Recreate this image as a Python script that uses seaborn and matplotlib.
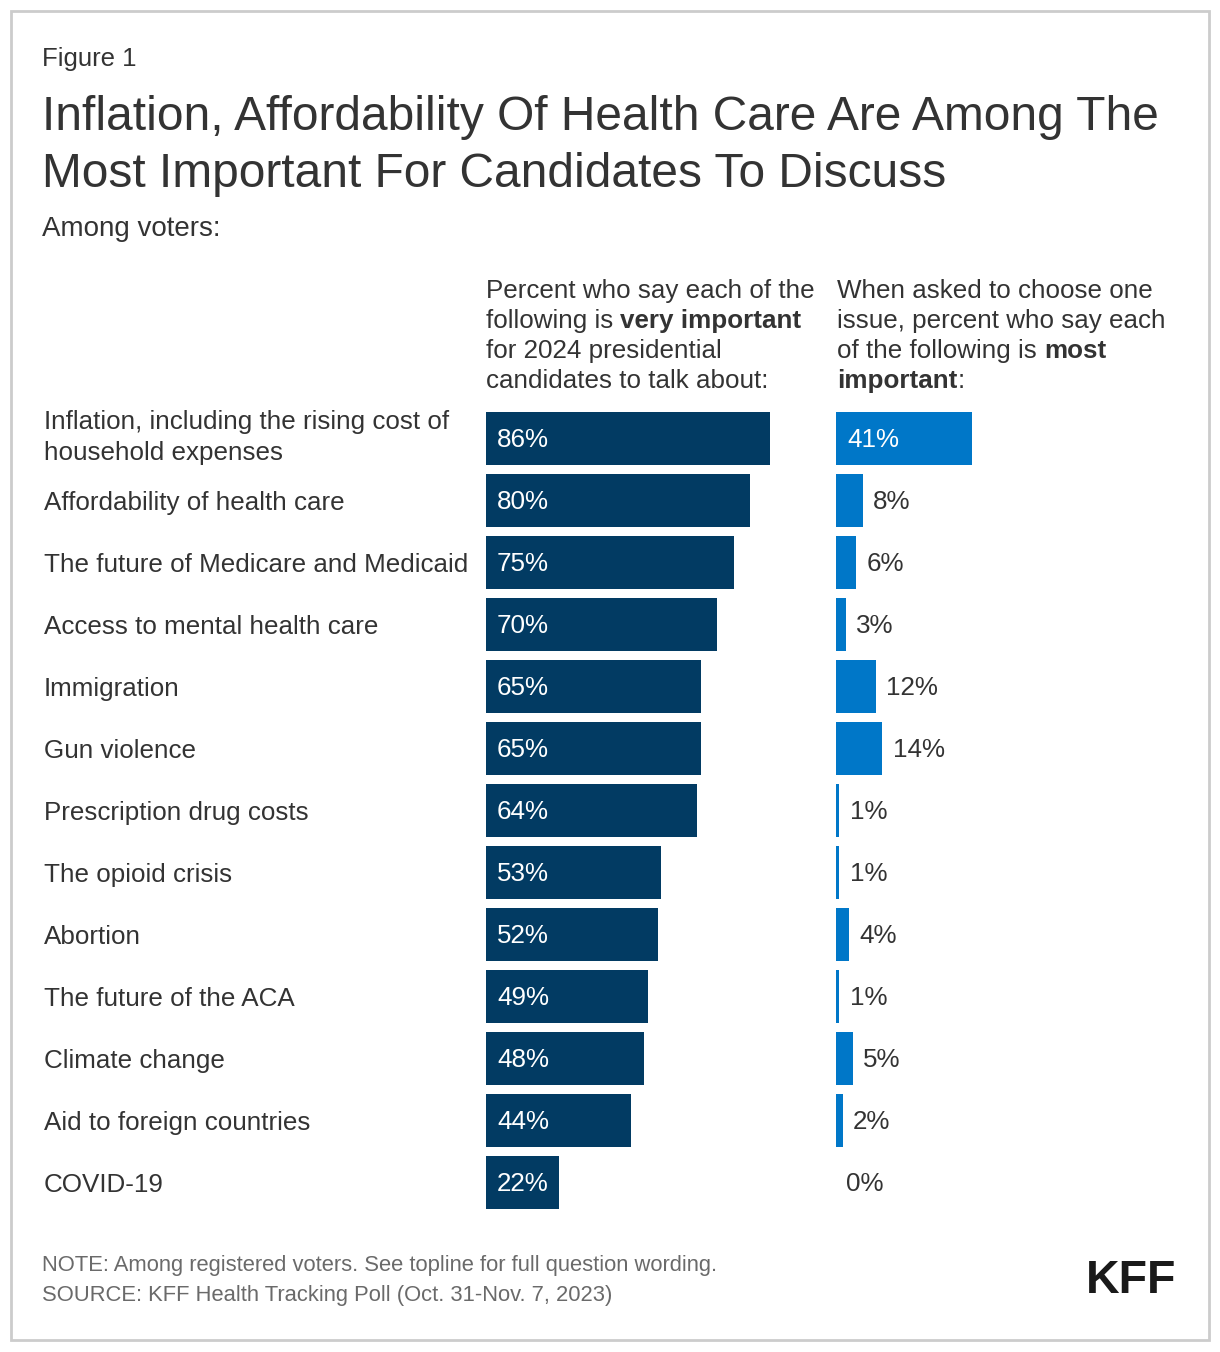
import numpy as np
import pandas as pd
import matplotlib
matplotlib.use("Agg")
import matplotlib.pyplot as plt
import matplotlib.transforms as mtransforms
import seaborn as sns
from matplotlib.patches import Rectangle

# ---------------- data ----------------
issues = [
    "Inflation, including the rising cost of\nhousehold expenses",
    "Affordability of health care",
    "The future of Medicare and Medicaid",
    "Access to mental health care",
    "Immigration",
    "Gun violence",
    "Prescription drug costs",
    "The opioid crisis",
    "Abortion",
    "The future of the ACA",
    "Climate change",
    "Aid to foreign countries",
    "COVID-19",
]
very_important = [86, 80, 75, 70, 65, 65, 64, 53, 52, 49, 48, 44, 22]
most_important = [41, 8, 6, 3, 12, 14, 1, 1, 4, 1, 5, 2, 0]

NAVY = "#023B63"
BLUE = "#0077C8"
TXT = "#333333"
GRAY = "#6A6A6A"

sns.set_theme(style="white")
plt.rcParams["font.family"] = ["Liberation Sans", "DejaVu Sans"]

W, H = 1220, 1352
fig = plt.figure(figsize=(W / 100, H / 100), dpi=100)
fig.patch.set_facecolor("white")


def fx(x):
    return x / W


def fy(y):
    return 1 - y / H


# border
fig.patches.append(Rectangle((fx(11), fy(1340)), fx(1209) - fx(11), fy(11) - fy(1340),
                             transform=fig.transFigure, fill=False,
                             edgecolor="#CCCCCC", linewidth=2))

df = pd.DataFrame({"issue": issues, "very": very_important, "most": most_important})

top_px, bot_px = 407.5, 1213.5
ax1 = fig.add_axes([fx(486), fy(bot_px), 330 / W, (bot_px - top_px) / H])
ax2 = fig.add_axes([fx(836), fy(bot_px), 332 / W, (bot_px - top_px) / H])

sns.barplot(data=df, x="very", y="issue", color=NAVY, saturation=1, width=0.86,
            ax=ax1, orient="h", linewidth=0)
sns.barplot(data=df, x="most", y="issue", color=BLUE, saturation=1, width=0.86,
            ax=ax2, orient="h", linewidth=0)

for ax in (ax1, ax2):
    ax.set_xlim(0, 100)
    ax.set_ylim(len(issues) - 0.5, -0.5)
    ax.set_xlabel("")
    ax.set_ylabel("")
    ax.set_xticks([])
    for s in ax.spines.values():
        s.set_visible(False)
    ax.patch.set_alpha(0)

FS = 18.7
ax1.tick_params(axis="y", length=0, pad=442 * 0.72, labelsize=FS, labelcolor=TXT)
for k, lab in enumerate(ax1.get_yticklabels()):
    lab.set_ha("left")
    lab.set_linespacing(1.36)
    if "\n" in lab.get_text():
        lab.set_transform(lab.get_transform() +
                          mtransforms.ScaledTranslation(0, 7 / 100, fig.dpi_scale_trans))
ax2.set_yticks([])

for i, v in enumerate(very_important):
    ax1.annotate(f"{v}%", xy=(0, i), xytext=(8, -1), textcoords="offset points",
                 va="center", ha="left", color="white", fontsize=FS)
for i, v in enumerate(most_important):
    if v >= 20:
        ax2.annotate(f"{v}%", xy=(0, i), xytext=(8, -1), textcoords="offset points",
                     va="center", ha="left", color="white", fontsize=FS)
    else:
        ax2.annotate(f"{v}%", xy=(v, i), xytext=(7.5, -1), textcoords="offset points",
                     va="center", ha="left", color=TXT, fontsize=FS)

# ---------------- texts ----------------
fig.text(fx(42), fy(66), "Figure 1", fontsize=18.5, color=TXT, va="baseline")
fig.text(fx(42), fy(130), "Inflation, Affordability Of Health Care Are Among The",
         fontsize=34.5, color=TXT, va="baseline")
fig.text(fx(42), fy(187), "Most Important For Candidates To Discuss",
         fontsize=34.5, color=TXT, va="baseline")
fig.text(fx(42), fy(236), "Among voters:", fontsize=20, color=TXT, va="baseline")

renderer = fig.canvas.get_renderer()
space_px = 0.278 * FS / 72 * 100


def seg_line(x, y, segments):
    cx = x
    for k, (txt, bold) in enumerate(segments):
        t = fig.text(fx(cx), fy(y), txt, fontsize=FS, color=TXT, va="baseline",
                     fontweight="bold" if bold else "normal")
        bb = t.get_window_extent(renderer)
        cx = bb.x1
        if k + 1 < len(segments) and not segments[k + 1][0].startswith(":"):
            cx += space_px


left_hdr = [
    [("Percent who say each of the", False)],
    [("following is", False), ("very important", True)],
    [("for 2024 presidential", False)],
    [("candidates to talk about:", False)],
]
right_hdr = [
    [("When asked to choose one", False)],
    [("issue, percent who say each", False)],
    [("of the following is", False), ("most", True)],
    [("important", True), (":", False)],
]
for j, line in enumerate(left_hdr):
    seg_line(486, 298 + 30 * j, line)
for j, line in enumerate(right_hdr):
    seg_line(837, 298 + 30 * j, line)

fig.text(fx(42), fy(1271), "NOTE: Among registered voters. See topline for full question wording.",
         fontsize=15.8, color=GRAY, va="baseline")
fig.text(fx(42), fy(1301), "SOURCE: KFF Health Tracking Poll (Oct. 31-Nov. 7, 2023)",
         fontsize=15.8, color=GRAY, va="baseline")
fig.text(fx(1176), fy(1293), "KFF", fontsize=33.5, fontweight="bold", color="#1A1A1A",
         ha="right", va="baseline")

fig.savefig("out.png", dpi=100, facecolor="white")
